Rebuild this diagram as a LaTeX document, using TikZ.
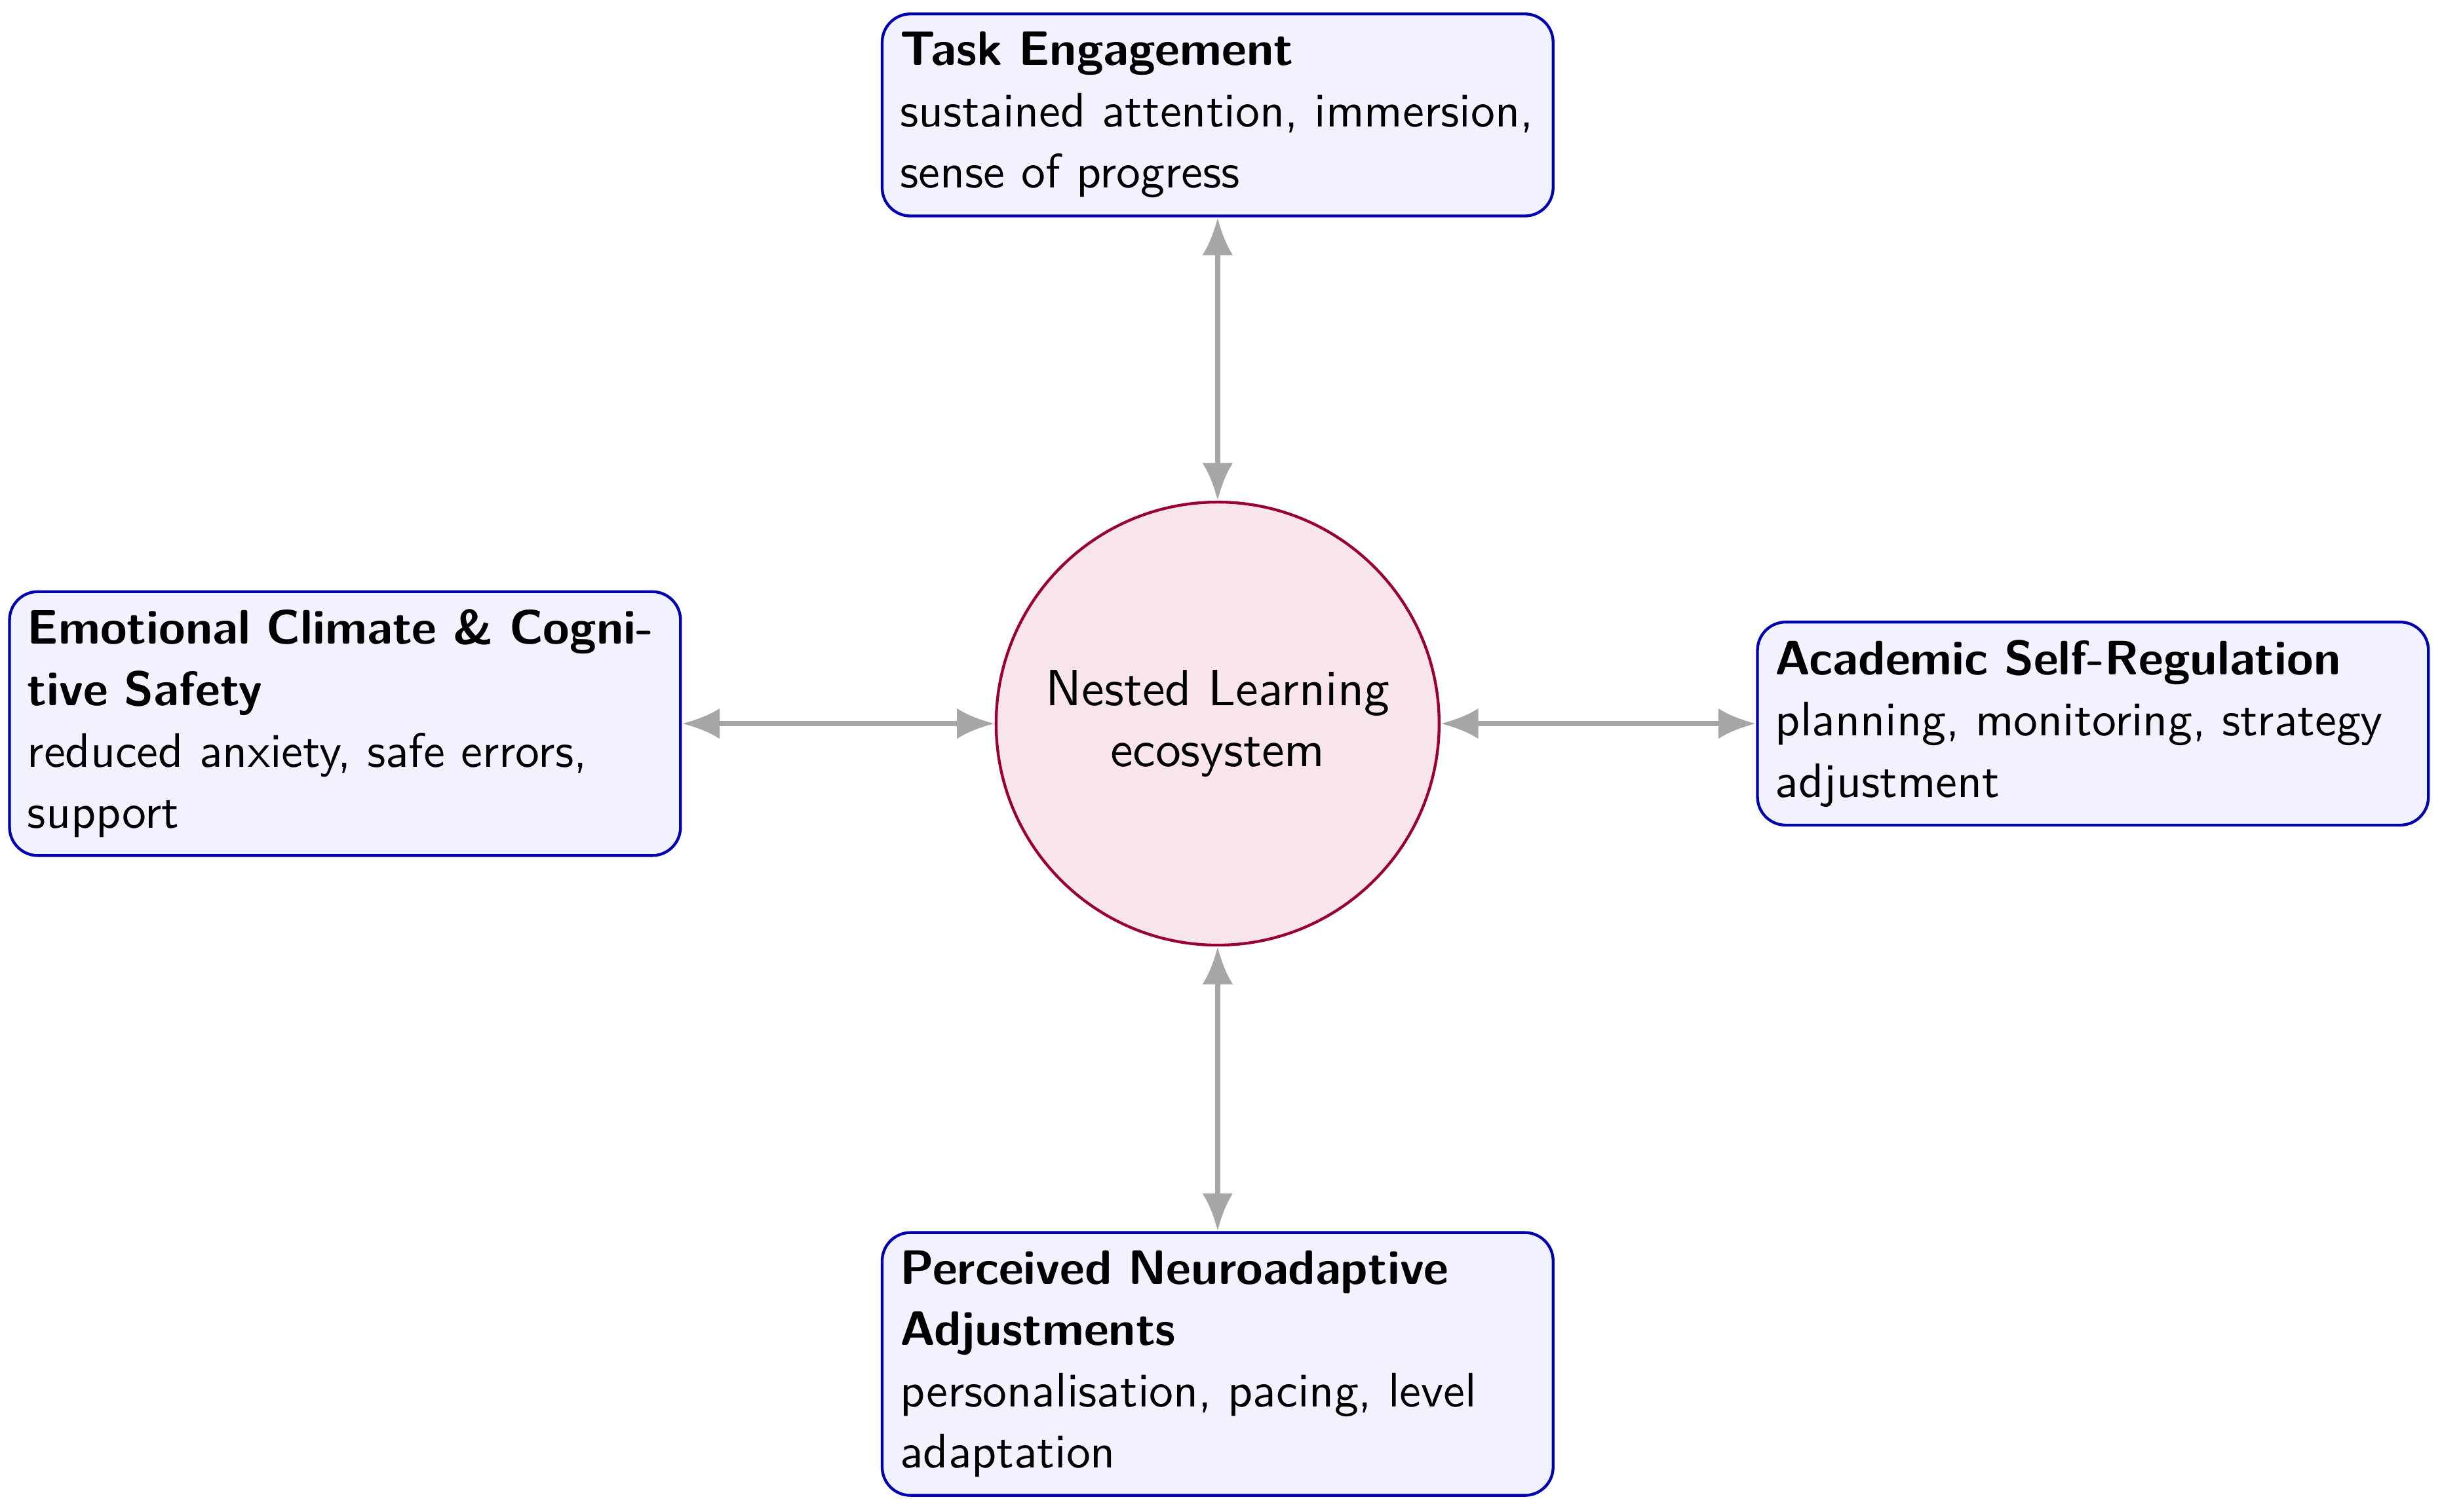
\documentclass[tikz,border=0pt]{standalone}
\usepackage{xcolor}
\usepackage{tikz}
\usetikzlibrary{positioning, arrows.meta}
\definecolor{dimFill}{HTML}{f2f2ff}
\definecolor{dimBorder}{HTML}{0000b0}
\definecolor{hubFill}{HTML}{f8e5ec}
\definecolor{hubBorder}{HTML}{990033}
\definecolor{linkGray}{HTML}{a6a6a6}

\begin{document}
\begin{tikzpicture}[dim/.style={draw=dimBorder, fill=dimFill, semithick, rounded corners=6pt, text width=134.6pt, inner sep=3.8pt, align=left, font=\sffamily\fontsize{10.25pt}{13pt}\selectfont},hub/.style={circle, draw=hubBorder, fill=hubFill, semithick, minimum size=3.3cm, inner sep=0pt, align=center, font=\sffamily\fontsize{10.8pt}{13pt}\selectfont},link/.style={{Latex[length=8pt, width=6.5pt]}-{Latex[length=8pt, width=6.5pt]}, very thick, color=linkGray}]
\useasboundingbox (-9.07,-5.87) rectangle (9.12,5.39);
\node[hub] (hub) at (0,0) {Nested Learning\\ecosystem};
\node[dim, above=2.11cm of hub] (task) {\textbf{Task Engagement}\\sustained attention, immersion, sense of progress};
\node[dim, left=2.33cm of hub] (emo) {\textbf{Emotional Climate \& Cognitive Safety}\\reduced anxiety, safe errors, support};
\node[dim, right=2.35cm of hub] (reg) {\textbf{Academic Self-Regulation}\\planning, monitoring, strategy adjustment};
\node[dim, below=2.12cm of hub] (neuro) {\textbf{Perceived Neuroadaptive Adjustments}\\personalisation, pacing, level adaptation};
\draw[link] (task) -- (hub); \draw[link] (emo) -- (hub);
\draw[link] (reg) -- (hub); \draw[link] (neuro) -- (hub);
\end{tikzpicture}
\end{document}
